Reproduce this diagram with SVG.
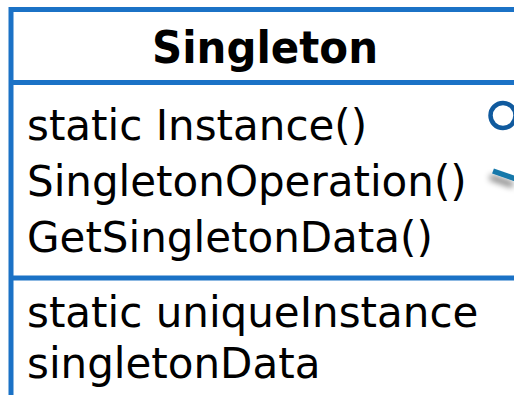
<svg xmlns="http://www.w3.org/2000/svg" width="514" height="395" viewBox="0 0 514 395">
  <style>
    .frame { fill: #ffffff; stroke: #1b72c6; stroke-width: 5; }
    .sep { stroke: #1b72c6; stroke-width: 5; }
    .title { font-family: "DejaVu Sans", Verdana, sans-serif; font-weight: bold; font-size: 44px; fill: #000; }
    .member { font-family: "DejaVu Sans", Verdana, sans-serif; font-size: 42px; fill: #000; }
  </style>
  <defs>
    <filter id="shade" x="-50%" y="-100%" width="200%" height="400%">
      <feGaussianBlur in="SourceAlpha" stdDeviation="3"/>
      <feOffset dx="-3" dy="6" result="b"/>
      <feComponentTransfer><feFuncA type="linear" slope="0.55"/></feComponentTransfer>
      <feMerge><feMergeNode/><feMergeNode in="SourceGraphic"/></feMerge>
    </filter>
  </defs>
  <rect width="514" height="395" fill="#ffffff"/>

  <g id="singleton">
    <rect class="frame" x="11" y="9.5" width="520" height="420"/>
    <line class="sep" x1="11" y1="82.5" x2="520" y2="82.5"/>
    <line class="sep" x1="11" y1="278" x2="520" y2="278"/>
    <text class="title" x="265" y="63" text-anchor="middle" textLength="226" lengthAdjust="spacingAndGlyphs">Singleton</text>
    <text class="member" x="27" y="140">static Instance()</text>
    <text class="member" x="27" y="196">SingletonOperation()</text>
    <text class="member" x="27" y="252">GetSingletonData()</text>
    <text class="member" x="27" y="327">static uniqueInstance</text>
    <text class="member" x="27" y="378">singletonData</text>
  </g>

  <g id="connectors">
    <circle cx="503" cy="115.5" r="12.5" fill="none" stroke="#105a9e" stroke-width="4.5"/>
    <line x1="493" y1="171" x2="516" y2="179" stroke="#1678aa" stroke-width="5.5" filter="url(#shade)"/>
  </g>
</svg>
